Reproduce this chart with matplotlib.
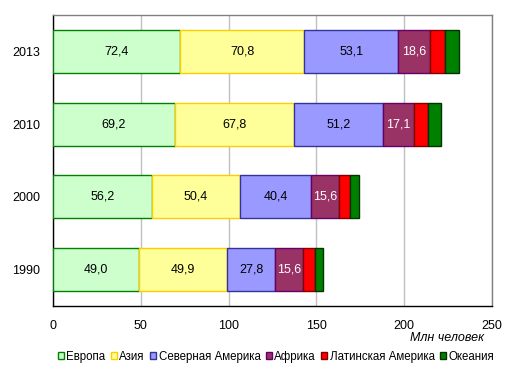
import numpy as np
import matplotlib
matplotlib.use("Agg")
import matplotlib.pyplot as plt

plt.rcParams['font.family'] = ['Liberation Sans', 'DejaVu Sans']

# data
years = ["1990", "2000", "2010", "2013"]
regions = ["Европа", "Азия", "Северная Америка", "Африка", "Латинская Америка", "Океания"]
europe = [49.0, 56.2, 69.2, 72.4]
asia = [49.9, 50.4, 67.8, 70.8]
north_america = [27.8, 40.4, 51.2, 53.1]
africa = [15.6, 15.6, 17.1, 18.6]
latin_america = [6.7, 6.6, 8.5, 8.5]
oceania = [4.7, 5.3, 7.1, 8.0]

series = [europe, asia, north_america, africa, latin_america, oceania]
fills = ["#CCFFCC", "#FFFF99", "#9999FF", "#993366", "#FF0000", "#008000"]
edges = ["#008000", "#FFCC00", "#333399", "#660066", "#800000", "#003300"]
label_series = {0: "black", 1: "black", 2: "black", 3: "white"}

fig = plt.figure(figsize=(5.19, 3.75), dpi=100)
ax = fig.add_axes([53 / 519, 1 - 306 / 375, (492 - 53) / 519, (306 - 15) / 375])

y = np.arange(len(years))
left = np.zeros(len(years))
for i, (vals, name) in enumerate(zip(series, regions)):
    vals = np.array(vals)
    bars = ax.barh(y, vals, left=left, height=0.59, color=fills[i],
                   edgecolor=edges[i], linewidth=1.0, label=name, zorder=3)
    if i in label_series:
        for b, v in zip(bars, vals):
            ax.text(b.get_x() + b.get_width() / 2, b.get_y() + b.get_height() / 2,
                    f"{v:.1f}".replace(".", ","), ha="center", va="center",
                    fontsize=9, color=label_series[i], zorder=4)
    left += vals

ax.set_xlim(0, 250)
ax.set_ylim(-0.5, 3.5)
ax.set_yticks(y)
ax.set_yticklabels(years, fontsize=9)
ax.set_xticks([0, 50, 100, 150, 200, 250])
ax.tick_params(axis="both", length=0, labelsize=9)
ax.tick_params(axis="x", pad=10)
ax.tick_params(axis="y", pad=9)
ax.xaxis.grid(True, color="#C0C0C0", linewidth=1.0, zorder=0)
ax.set_axisbelow(True)
ax.spines["left"].set_color("black")
ax.spines["bottom"].set_color("black")
ax.spines["top"].set_color("#808080")
ax.spines["right"].set_color("#808080")
for s in ax.spines.values():
    s.set_linewidth(1.0)

fig.text(447 / 519, 1 - 338 / 375, "Млн человек", ha="center", va="center",
         fontsize=9, style="italic")

fig.legend(loc="center", bbox_to_anchor=(276 / 519, 1 - 357 / 375), ncol=6,
           frameon=False, fontsize=8.3, handlelength=0.55, handleheight=0.55,
           handletextpad=0.2, columnspacing=0.45, borderaxespad=0, borderpad=0)

fig.savefig("out.png", dpi=100)
